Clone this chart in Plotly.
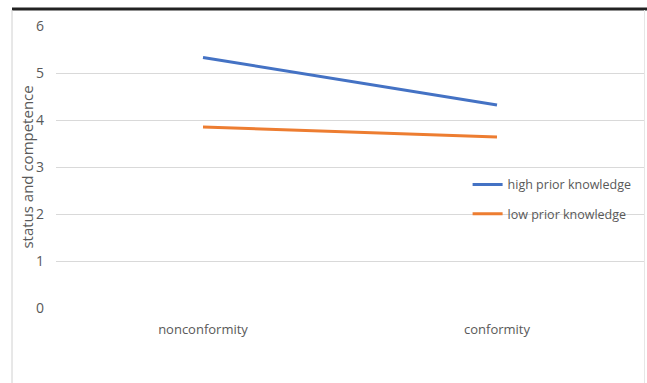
import plotly.graph_objects as go

# Category axis and mean ratings per prior-knowledge group
conditions = ["nonconformity", "conformity"]
high_prior = [5.33, 4.32]
low_prior = [3.85, 3.64]
y_ticks = [0, 1, 2, 3, 4, 5, 6]

TEXT = "#595959"
FONT = "Open Sans, Noto Sans, sans-serif"

fig = go.Figure()
fig.add_trace(go.Scatter(
    x=conditions, y=high_prior, mode="lines", name="high prior knowledge",
    line=dict(color="#4472C4", width=3), legendgroup="high",
))
fig.add_trace(go.Scatter(
    x=conditions, y=low_prior, mode="lines", name="low prior knowledge",
    line=dict(color="#ED7D31", width=3), legendgroup="low",
))

fig.update_layout(
    width=647, height=383,
    margin=dict(l=56, r=3, t=26, b=75),
    paper_bgcolor="white", plot_bgcolor="white",
    font=dict(family=FONT, size=13, color=TEXT),
    showlegend=True,
    legend=dict(
        x=0.70, y=0.385, xanchor="left", yanchor="middle",
        bgcolor="rgba(0,0,0,0)", borderwidth=0,
        font=dict(size=12.5, color=TEXT),
        tracegroupgap=10, traceorder="grouped",
    ),
    xaxis=dict(
        type="category", range=[-0.5, 1.5],
        showgrid=False, zeroline=False, showline=False, ticks="",
        ticklabelstandoff=12,
    ),
    yaxis=dict(
        range=[0, 6], tickvals=y_ticks, ticktext=[str(v) for v in y_ticks],
        showgrid=True, gridcolor="#D9D9D9", gridwidth=1,
        zeroline=False, showline=False, ticks="",
        ticklabelstandoff=11, tickfont=dict(size=14),
    ),
    annotations=[dict(
        text="status and competence", textangle=-90,
        xref="paper", yref="paper", x=-0.05, y=0.5,
        xanchor="center", yanchor="middle", showarrow=False,
        font=dict(size=15, color=TEXT),
    )],
    shapes=[
        # dark rule across the top of the chart frame
        dict(type="line", xref="paper", yref="paper",
             xsizemode="pixel", ysizemode="pixel", xanchor=0, yanchor=1,
             x0=-44, x1=600, y0=17, y1=17,
             line=dict(color="#222222", width=3)),
        # faint frame edges
        dict(type="line", xref="paper", yref="paper",
             xsizemode="pixel", ysizemode="pixel", xanchor=0, yanchor=1,
             x0=-44, x1=-44, y0=16, y1=-400,
             line=dict(color="#D0D0D0", width=1)),
        dict(type="line", xref="paper", yref="paper",
             xsizemode="pixel", ysizemode="pixel", xanchor=1, yanchor=1,
             x0=0.5, x1=0.5, y0=16, y1=-400,
             line=dict(color="#E6E6E6", width=1)),
    ],
)

fig.write_html("out.html")
